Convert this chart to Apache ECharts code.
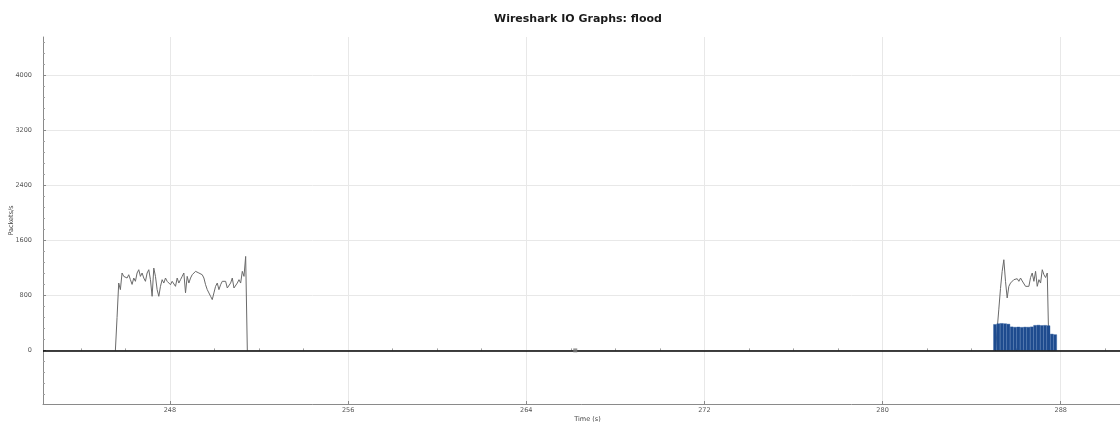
<!DOCTYPE html>
<html><head><meta charset="utf-8">
<script src="https://cdn.jsdelivr.net/npm/echarts@6/dist/echarts.min.js"></script>
<style>html,body{margin:0;padding:0;background:#fff}#c{width:1120px;height:425px}</style>
</head><body><div id="c"></div>
<script>
// ---- data ----
const sampleInterval = 0.075; // seconds between line samples
const burst1Start = 245.55;
const burst1Values = [0, 480, 980, 884, 1126, 1077, 1087, 1053, 1101, 1029, 960, 1053, 1005, 1126, 1174, 1077, 1126, 1053, 1005, 1126,
  1174, 1029, 787, 1198, 1077, 884, 787, 932, 1029, 980, 1053, 1005, 1029, 956, 1005, 1029, 932, 1053, 980, 1029,
  1077, 1126, 838, 1077, 980, 1053, 1101, 1126, 1150, 1174, 1126, 1150, 1101, 1053, 956, 884, 836, 787, 739, 836,
  932, 980, 884, 956, 1005, 980, 1005, 908, 884, 980, 1053, 908, 884, 980, 1029, 980, 1150, 1077, 1367, 0];
const burst2Start = 285.07;
const burst2Values = [0, 300, 600, 900, 1150, 1319, 1005, 763, 932, 980, 1005, 1029, 1020, 1043, 1005, 1053, 1010, 990, 932, 908,
  932, 1060, 1126, 1005, 1150, 932, 1029, 980, 1174, 1101, 1060, 1126, 0];
const barInterval = 0.15;
const barStart = 285.05;
const barValues = [380, 391, 395, 391, 385, 345, 340, 343, 338, 342, 340, 345, 367, 370, 365, 367, 362, 240, 232];
const markerTimes = [266.2];
const markerValues = [0];
const xTickValues = [248, 256, 264, 272, 280, 288];
const xMinorTickValues = [244, 246, 250, 252, 254, 258, 260, 262, 266, 268, 270, 274, 276, 278, 282, 284, 286, 290];
const yTickValues = [0, 800, 1600, 2400, 3200, 4000];

const X_MIN = 242.3, X_MAX = 291.2, Y_MIN = -780, Y_MAX = 4560;
const yMinorTickValues = [];
for (let v = -640; v < Y_MAX; v += 160) if (v % 800 !== 0) yMinorTickValues.push(v);

const toPairs = (start, step, vals) => vals.map((v, i) => [+(start + i * step).toFixed(3), v]);
const plain = v => String(v);

const FONT = 'DejaVu Sans';
const chart = echarts.init(document.getElementById('c'), null, {renderer: 'canvas'});
chart.setOption({
  animation: false,
  backgroundColor: '#ffffff',
  title: {
    text: 'Wireshark IO Graphs: flood',
    left: 489, top: 9,
    textStyle: {fontFamily: FONT, fontSize: 11, fontWeight: 'bold', color: '#1a1a1a'}
  },
  grid: {left: 43, right: -12, top: 37, bottom: 21, containLabel: false, outerBoundsMode: 'none'},
  xAxis: [{
    type: 'value', min: X_MIN, max: X_MAX,
    name: 'Time (s)', nameLocation: 'middle', nameGap: 12, nameMoveOverlap: false,
    nameTextStyle: {fontFamily: FONT, fontSize: 6.5, color: '#444'},
    axisLine: {show: true, onZero: false, lineStyle: {color: '#8a8a8a', width: 1}},
    axisTick: {show: true, inside: true, length: 3, customValues: xTickValues, lineStyle: {color: '#8a8a8a'}},
    axisLabel: {customValues: xTickValues, formatter: plain, fontFamily: FONT, fontSize: 6.5, color: '#555', margin: 3},
    splitLine: {show: true, lineStyle: {color: '#e8e8e8', width: 1}}
  }, {
    type: 'value', min: X_MIN, max: X_MAX, position: 'bottom',
    axisLine: {show: false},
    axisTick: {show: true, inside: true, length: 2, customValues: xMinorTickValues, lineStyle: {color: '#a0a0a0'}},
    axisLabel: {show: false}, splitLine: {show: false}
  }],
  yAxis: [{
    type: 'value', min: Y_MIN, max: Y_MAX,
    name: 'Packets/s', nameLocation: 'middle', nameGap: 28, nameRotate: 90, nameMoveOverlap: false,
    nameTextStyle: {fontFamily: FONT, fontSize: 6.5, color: '#444'},
    axisLine: {show: true, onZero: false, lineStyle: {color: '#8a8a8a', width: 1}},
    axisTick: {show: true, inside: true, length: 3, customValues: yTickValues, lineStyle: {color: '#8a8a8a'}},
    axisLabel: {customValues: yTickValues, formatter: plain, fontFamily: FONT, fontSize: 6.5, color: '#555', margin: 11},
    splitLine: {show: true, lineStyle: {color: '#e8e8e8', width: 1}}
  }, {
    type: 'value', min: Y_MIN, max: Y_MAX, position: 'left',
    axisLine: {show: false},
    axisTick: {show: true, inside: true, length: 2, customValues: yMinorTickValues, lineStyle: {color: '#a0a0a0'}},
    axisLabel: {show: false}, splitLine: {show: false}
  }],
  series: [
    {
      type: 'line', name: 'flood 1', data: toPairs(burst1Start, sampleInterval, burst1Values),
      showSymbol: false, symbol: 'none', z: 3,
      lineStyle: {color: '#6a6a6a', width: 1},
      markLine: {
        silent: true, symbol: 'none', label: {show: false},
        lineStyle: {color: '#000', width: 1.5, type: 'solid'},
        data: [{yAxis: 0}]
      }
    },
    {
      type: 'line', name: 'flood 2', data: toPairs(burst2Start, sampleInterval, burst2Values),
      showSymbol: false, symbol: 'none', z: 3,
      lineStyle: {color: '#6a6a6a', width: 1}
    },
    {
      type: 'bar', name: 'bars', data: toPairs(barStart, barInterval, barValues),
      barWidth: 3.4, z: 4,
      itemStyle: {color: '#1e4b8e', borderColor: '#2c5c9f', borderWidth: 0.4}
    },
    {
      type: 'scatter', name: 'marker', data: markerTimes.map((t, i) => [t, markerValues[i]]),
      symbol: 'rect', symbolSize: 4, z: 5,
      itemStyle: {color: '#7a7a7a'}
    }
  ]
});
</script></body></html>
